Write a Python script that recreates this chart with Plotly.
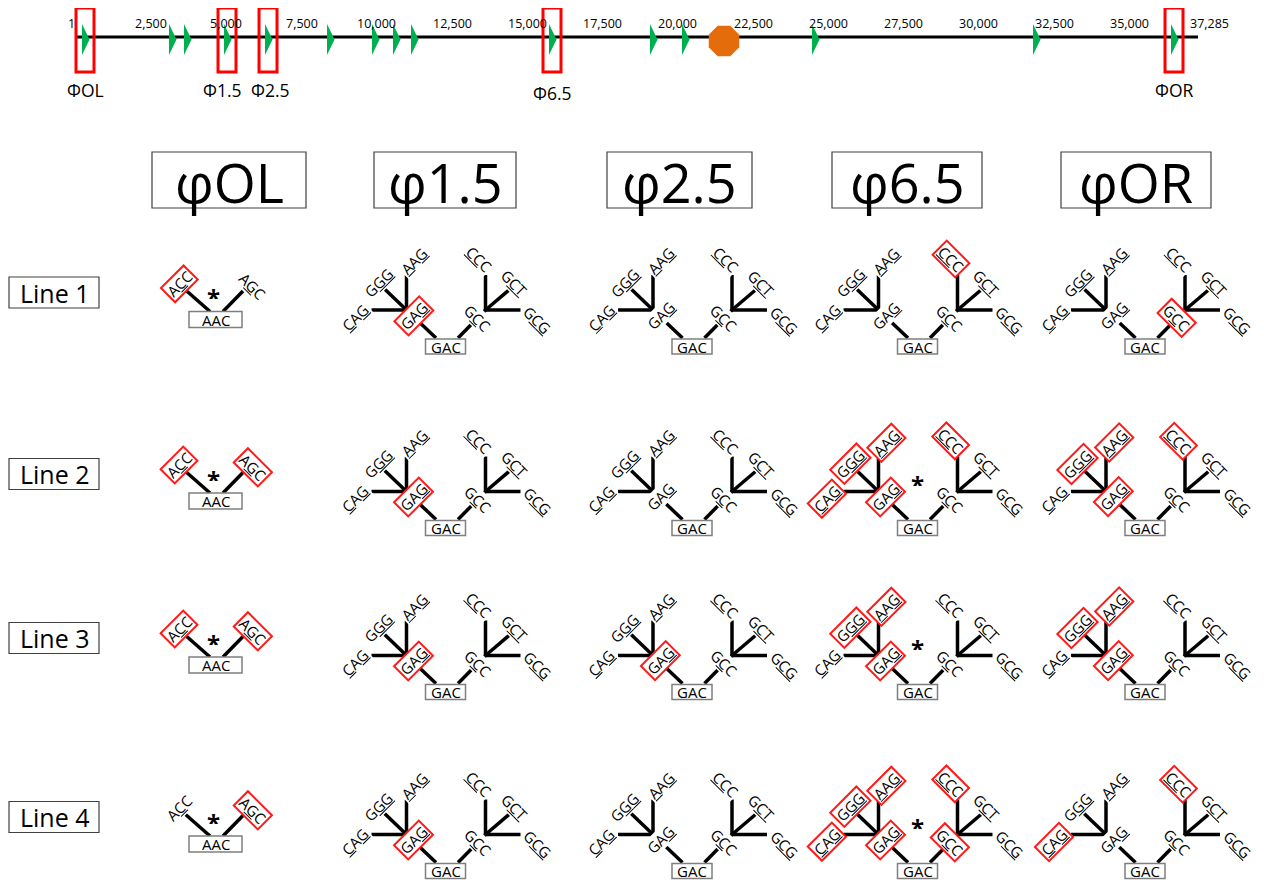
import plotly.graph_objects as go

# ------------------------------------------------------------------ data
genome_start = 1
genome_end = 37285
tick_values = [1, 2500, 5000, 7500, 10000, 12500, 15000, 17500, 20000,
               22500, 25000, 27500, 30000, 32500, 35000, 37285]
tick_labels = ["1", "2,500", "5,000", "7,500", "10,000", "12,500", "15,000",
               "17,500", "20,000", "22,500", "25,000", "27,500", "30,000",
               "32,500", "35,000", "37,285"]
promoter_bp = [199, 3090, 3589, 4918, 6281, 8341, 9836, 10534, 11132,
               15718, 19074, 20138, 24458, 31802, 36387]
terminator_bp = [21533]
marked_names = ["ΦOL", "Φ1.5", "Φ2.5", "Φ6.5", "ΦOR"]
marked_bp = [199, 4918, 6281, 15718, 36387]

columns = ["φOL", "φ1.5", "φ2.5", "φ6.5", "φOR"]
row_names = ["Line 1", "Line 2", "Line 3", "Line 4"]

ol_root = "AAC"
ol_leaves = ["ACC", "AGC"]
gac_root = "GAC"
gac_left_node = "GAG"
gac_right_node = "GCC"
gac_left_leaves = ["CAG", "GGG", "AAG"]
gac_right_leaves = ["CCC", "GCT", "GCG"]

hits_phiOL = [["ACC"], ["ACC", "AGC"], ["ACC", "AGC"], ["AGC"]]
hits_phi15 = [["GAG"], ["GAG"], ["GAG"], ["GAG"]]
hits_phi25 = [[], [], ["GAG"], []]
hits_phi65 = [["CCC"], ["CAG", "GGG", "AAG", "GAG", "CCC"],
              ["GGG", "AAG", "GAG"], ["CAG", "GGG", "AAG", "GAG", "CCC", "GCC"]]
hits_phiOR = [["GCC"], ["GGG", "AAG", "GAG", "CCC"],
              ["GGG", "AAG", "GAG"], ["CAG", "CCC"]]
star_phiOL = [True, True, True, True]
star_phi65 = [False, True, True, True]

# ------------------------------------------------------------------ styles / layout
FONT = "Open Sans"
RED = "#ff1a1a"
GREEN = "#00b050"
ORANGE = "#e46c0a"
PAGE_OFF = 8                                      # body margin of the html page
W, H = 1264 - PAGE_OFF, 882 - PAGE_OFF
col_x = [215.5, 445.5, 692, 917.5, 1145]          # tree root centres (page px)
row_y = [346.5, 528, 692, 871]                    # GAC box centres (page px)
header_x = [229, 445, 679.5, 907, 1136]
header_w = [154, 142, 145, 150, 150]
header_y = 180
line_y_offset = -54
ol_dy = -27
marked_label_shift = [0, -5, 2, 0, 0]

PX_PER_BP = 0.030093
X0_PX = 76
tri_w = 250
line_y = 37

fig = go.Figure()
annotations = []
shapes = []

# ------------------------------------------------------------------ genome map
fig.add_trace(go.Scatter(x=[genome_start, genome_end], y=[line_y, line_y], mode="lines",
                         line=dict(color="black", width=3), xaxis="x", yaxis="y",
                         hoverinfo="skip", showlegend=False))
tx, ty = [], []
for p in promoter_bp:
    tx += [p, p, p + tri_w, p, None]
    ty += [24, 55, 39.5, 24, None]
fig.add_trace(go.Scatter(x=tx, y=ty, mode="lines", fill="toself", fillcolor=GREEN,
                         line=dict(width=0, color=GREEN), xaxis="x", yaxis="y",
                         hoverinfo="skip", showlegend=False))
fig.add_trace(go.Scatter(x=terminator_bp, y=[41], mode="markers",
                         marker=dict(symbol="octagon", size=33, color=ORANGE,
                                     line=dict(width=0)),
                         xaxis="x", yaxis="y", hoverinfo="skip", showlegend=False))
for name, p, sh in zip(marked_names, marked_bp, marked_label_shift):
    shapes.append(dict(type="rect", xref="x", yref="y", x0=p - 199, x1=p + 399,
                       y0=8, y1=72, line=dict(color="red", width=3)))
    annotations.append(dict(x=p + 100, y=93 if name == "Φ6.5" else 90, xref="x", yref="y",
                            text=name, showarrow=False, xshift=sh,
                            font=dict(family=FONT, size=17.5, color="black"),
                            xanchor="center", yanchor="middle"))
for i, (v, lab) in enumerate(zip(tick_values, tick_labels)):
    shift = -5 if i == 0 else (11 if i == len(tick_values) - 1 else 0)
    annotations.append(dict(x=v, y=23, xref="x", yref="y", text=lab, showarrow=False,
                            xshift=shift, font=dict(family=FONT, size=12.5, color="black"),
                            xanchor="center", yanchor="middle"))

# ------------------------------------------------------------------ headers and row labels
for name, hx, hw in zip(columns, header_x, header_w):
    shapes.append(dict(type="rect", xref="x2", yref="y2", x0=hx - hw / 2, x1=hx + hw / 2,
                       y0=152, y1=208, line=dict(color="#404040", width=1.2)))
    annotations.append(dict(x=hx, y=header_y + 2, xref="x2", yref="y2", text=name, showarrow=False,
                            font=dict(family=FONT, size=54, color="black"),
                            xanchor="center", yanchor="middle"))
for name, gy in zip(row_names, row_y):
    ly = gy + line_y_offset
    shapes.append(dict(type="rect", xref="x2", yref="y2", x0=9, x1=99,
                       y0=ly - 15.5, y1=ly + 15.5, line=dict(color="#404040", width=1.2)))
    annotations.append(dict(x=55, y=ly, xref="x2", yref="y2", text=name, showarrow=False,
                            font=dict(family=FONT, size=25, color="black"),
                            xanchor="center", yanchor="middle"))


def fmt(codon, root):
    return "".join(f"<u>{c}</u>" if c != r else c for c, r in zip(codon, root))


def label(x, y, codon, root, angle, hit):
    a = dict(x=x, y=y, xref="x2", yref="y2", text=fmt(codon, root), showarrow=False,
             textangle=angle, font=dict(family=FONT, size=15, color="black"),
             xanchor="center", yanchor="middle", borderpad=1, height=16,
             bgcolor="white")
    if hit:
        a.update(bordercolor=RED, borderwidth=2)
    annotations.append(a)


def root_text(x, y, codon):
    annotations.append(dict(x=x, y=y, xref="x2", yref="y2", text=codon, showarrow=False,
                            font=dict(family=FONT, size=15, color="black"), height=14,
                            xanchor="center", yanchor="middle"))


def star(x, y):
    # y is the visual centre of the asterisk glyph
    annotations.append(dict(x=x, y=y - 2, xref="x2", yref="y2", text="<b>*</b>", showarrow=False,
                            font=dict(family=FONT, size=24, color="black"),
                            height=18, valign="top",
                            xanchor="center", yanchor="middle"))


lx, ly_ = [], []

# φOL trees
ox = col_x[0]
for r, gy in enumerate(row_y):
    oy = gy + ol_dy
    lx += [ox - 5.5, ox - 30.5, None, ox + 7.5, ox + 27.5, None]
    ly_ += [oy - 8, oy - 30, None, oy - 8, oy - 28.5, None]
    shapes.append(dict(type="rect", xref="x2", yref="y2", x0=ox - 26.5, x1=ox + 26.5,
                       y0=oy - 8, y1=oy + 8, line=dict(color="#7f7f7f", width=1.5),
                       fillcolor="white"))
    root_text(ox, oy, ol_root)
    label(ox - 36.5, oy - 36, ol_leaves[0], ol_root, -45, ol_leaves[0] in hits_phiOL[r])
    label(ox + 37, oy - 34, ol_leaves[1], ol_root, 45, ol_leaves[1] in hits_phiOL[r])
    if star_phiOL[r]:
        star(ox - 2.5, oy - 27.5)

# GAC trees
gac_hits = [hits_phi15, hits_phi25, hits_phi65, hits_phiOR]
left_ends = [(-35, 0), (-24, -23), (0, -35)]
right_ends = [(0, -35), (27, -23), (35, 0)]
left_lab = [(-91, -29), (-67.5, -64), (-31.5, -85.5)]
right_lab = [(33.5, -87.5), (69, -64), (92, -27)]
for c in range(1, 5):
    gx = col_x[c]
    hits = gac_hits[c - 1]
    for r, gy in enumerate(row_y):
        Lx, Ly = gx - 39, gy - 36.5
        Rx, Ry = gx + 40, gy - 36.5
        lx += [gx - 9.5, Lx, None, gx + 12.5, Rx, None]
        ly_ += [gy - 8.5, Ly, None, gy - 8.5, Ry, None]
        for dx, dy in left_ends:
            lx += [Lx, Lx + dx, None]
            ly_ += [Ly, Ly + dy, None]
        for dx, dy in right_ends:
            lx += [Rx, Rx + dx, None]
            ly_ += [Ry, Ry + dy, None]
        shapes.append(dict(type="rect", xref="x2", yref="y2", x0=gx - 20, x1=gx + 20,
                           y0=gy - 7.5, y1=gy + 7.5, line=dict(color="#7f7f7f", width=1.5),
                           fillcolor="white"))
        root_text(gx, gy, gac_root)
        for cod, (dx, dy) in zip(gac_left_leaves, left_lab):
            label(gx + dx, gy + dy, cod, gac_root, -45, cod in hits[r])
        for cod, (dx, dy) in zip(gac_right_leaves, right_lab):
            label(gx + dx, gy + dy, cod, gac_root, 45, cod in hits[r])
        label(gx - 32, gy - 31, gac_left_node, gac_root, -45, gac_left_node in hits[r])
        label(gx + 32, gy - 29, gac_right_node, gac_root, 45, gac_right_node in hits[r])
        if c == 3 and star_phi65[r]:
            star(gx, gy - 49)

fig.add_trace(go.Scatter(x=lx, y=ly_, mode="lines", line=dict(color="black", width=3.5),
                         xaxis="x2", yaxis="y2", hoverinfo="skip", showlegend=False))

fig.update_layout(
    width=W, height=H, margin=dict(l=0, r=0, t=0, b=0),
    paper_bgcolor="white", plot_bgcolor="rgba(0,0,0,0)", showlegend=False,
    xaxis=dict(domain=[0, 1],
               range=[(PAGE_OFF - X0_PX) / PX_PER_BP, (1264 - X0_PX) / PX_PER_BP],
               visible=False, anchor="y"),
    yaxis=dict(domain=[1 - (110 - PAGE_OFF) / H, 1], range=[110, PAGE_OFF],
               visible=False, anchor="x"),
    xaxis2=dict(domain=[0, 1], range=[PAGE_OFF, 1264], visible=False, anchor="y2"),
    yaxis2=dict(domain=[0, 1], range=[882, PAGE_OFF], visible=False, anchor="x2"),
    annotations=annotations, shapes=shapes,
)

fig.write_html("out.html")
